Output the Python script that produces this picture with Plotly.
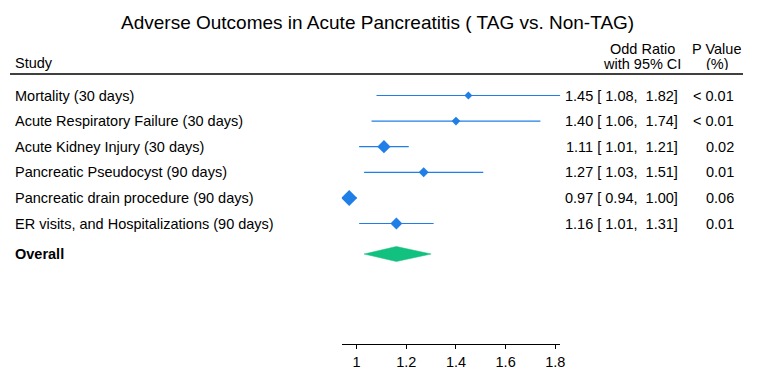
import plotly.graph_objects as go

studies = ["Mortality (30 days)", "Acute Respiratory Failure (30 days)",
           "Acute Kidney Injury (30 days)", "Pancreatic Pseudocyst (90 days)",
           "Pancreatic drain procedure (90 days)", "ER visits, and Hospitalizations (90 days)"]
odds = [1.45, 1.40, 1.11, 1.27, 0.97, 1.16]
lower = [1.08, 1.06, 1.01, 1.03, 0.94, 1.01]
upper = [1.82, 1.74, 1.21, 1.51, 1.00, 1.31]
pvals = ["< 0.01", "< 0.01", "0.02", "0.01", "0.06", "0.01"]
weights = [6.2, 6.7, 10.2, 7.7, 12.3, 9.2]  # marker sizes (study weights)
overall_or = 1.16
overall_lo = 1.03
overall_hi = 1.30
tick_vals = [1, 1.2, 1.4, 1.6, 1.8]
tick_text = ["1", "1.2", "1.4", "1.6", "1.8"]

# page body has an 8px margin; figure sized to fit the 759x386 window
OX, OY = 8, 8
W, H = 743, 370
BLUE = "#1f7fe6"
GREEN = "#12c07f"
FONT = "Liberation Sans, Arial, sans-serif"
FS = 14.5
HFS = 14.5

rows = list(range(len(studies)))
ROW0, ROWSTEP = 95.5, 25.6
overall_row = (254 - ROW0) / ROWSTEP

def px(x):
    return (x - OX) / W

def py(y):
    return 1 - (y - OY) / H

AXIS_Y = 344.3
ytop = (OY - ROW0) / ROWSTEP
ybot = (AXIS_Y - ROW0) / ROWSTEP

NUM_R = 685      # right edge of odds-ratio column
PV_R = 741       # right edge of p-value column
HDR_C = NUM_R - 38.5
PV_C = 721

fig = go.Figure()

for i in rows:
    fig.add_trace(go.Scatter(x=[lower[i], upper[i]], y=[i, i], mode="lines",
                             line=dict(color=BLUE, width=1.2), hoverinfo="skip",
                             showlegend=False))
fig.add_trace(go.Scatter(x=odds, y=rows, mode="markers",
                         marker=dict(symbol="diamond", size=weights, color=BLUE,
                                     opacity=1, line=dict(width=0)),
                         showlegend=False))
hh = 7.5 / ROWSTEP
fig.add_trace(go.Scatter(x=[overall_lo, overall_or, overall_hi, overall_or, overall_lo],
                         y=[overall_row, overall_row - hh, overall_row, overall_row + hh, overall_row],
                         mode="lines", fill="toself", fillcolor=GREEN,
                         line=dict(color=GREEN, width=0.5), showlegend=False))

ann = []
def add(text, x, y, xanchor="left", size=FS, yref="paper", bold=False, height=None):
    a = dict(text=("<b>%s</b>" % text) if bold else text, x=x, y=y,
             xref="paper", yref=yref, xanchor=xanchor, yanchor="middle",
             showarrow=False, font=dict(family=FONT, size=size, color="black"))
    if height:
        a["height"] = height
    ann.append(a)

add("Adverse Outcomes in Acute Pancreatitis ( TAG vs. Non-TAG)", px(380), py(22), "center", 19)
add("Study", px(13), py(63))
add("Odd Ratio", px(HDR_C), py(48.5), "center", HFS, height=13)
add("with 95% CI", px(HDR_C), py(63), "center", HFS, height=13)
add("P Value", px(PV_C), py(48.5), "center", HFS, height=13)
add("(%)", px(PV_C + 1), py(63), "center", HFS, height=13)

for i, s in enumerate(studies):
    add(s, px(13), i, yref="y")
    add("%.2f [ %.2f,\u00a0 %.2f]" % (odds[i], lower[i], upper[i]), px(NUM_R), i, "right", yref="y")
    add(pvals[i], px(PV_R), i, "right", yref="y")
add("Overall", px(13), overall_row, yref="y", bold=True)

fig.update_layout(
    width=W, height=H, margin=dict(l=0, r=0, t=0, b=0),
    paper_bgcolor="white", plot_bgcolor="white",
    annotations=ann,
    shapes=[dict(type="line", xref="paper", yref="paper", x0=px(10), x1=px(748),
                 y0=py(74), y1=py(74), line=dict(color="black", width=1.5))],
    xaxis=dict(domain=[px(344), px(564)], range=[0.94, 1.82], showgrid=False,
               zeroline=False, showline=True, linecolor="black", linewidth=1,
               ticks="outside", ticklen=4, tickcolor="black", tickvals=tick_vals,
               ticktext=tick_text, tickfont=dict(family=FONT, size=FS, color="black")),
    yaxis=dict(domain=[py(AXIS_Y), 1], range=[ybot, ytop], visible=False),
)

fig.write_html("out.html")
